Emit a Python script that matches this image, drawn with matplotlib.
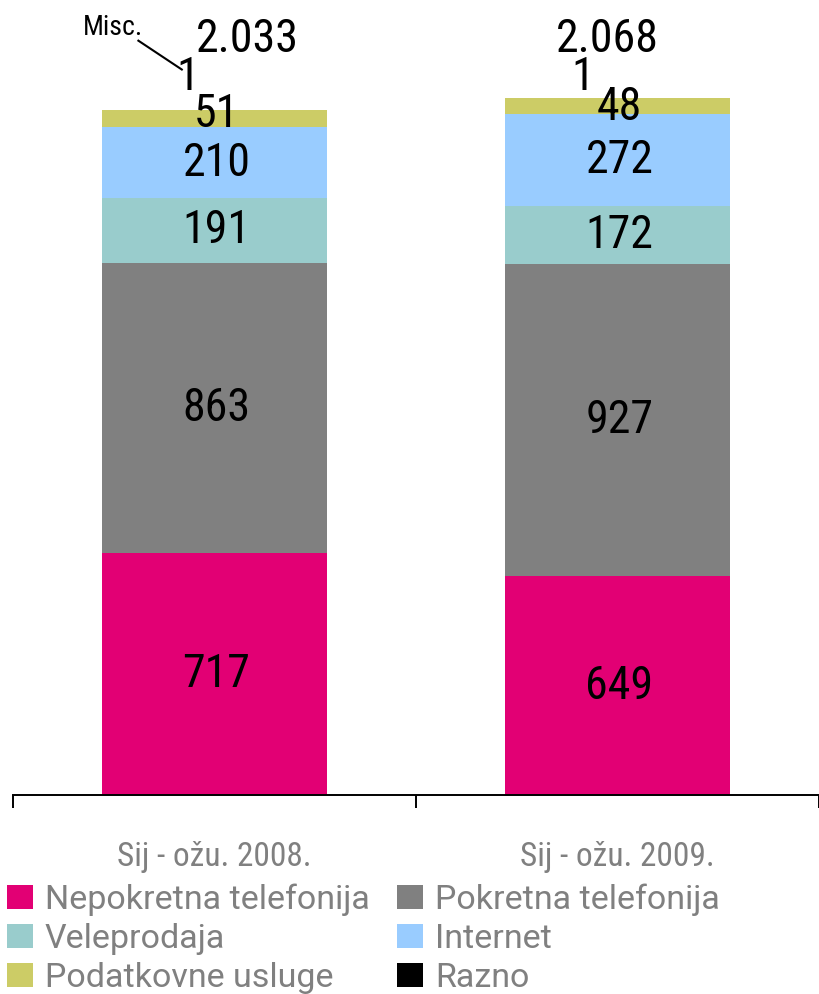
import matplotlib
matplotlib.use("Agg")
import matplotlib.pyplot as plt
import numpy as np

plt.rcParams["font.family"] = ["Roboto Condensed", "Liberation Sans", "DejaVu Sans"]

# data
periods = ["Sij - ožu. 2008.", "Sij - ožu. 2009."]
series = ["Nepokretna telefonija", "Pokretna telefonija", "Veleprodaja",
          "Internet", "Podatkovne usluge", "Razno"]
colors = ["#E20074", "#808080", "#99CCCC", "#99CCFF", "#CCCC66", "#000000"]
nepokretna = [717, 649]
pokretna = [863, 927]
veleprodaja = [191, 172]
internet = [210, 272]
podatkovne = [51, 48]
razno = [1, 1]
totals = ["2.033", "2.068"]

values = [nepokretna, pokretna, veleprodaja, internet, podatkovne, razno]

fig = plt.figure(figsize=(8.19, 9.94), dpi=100)
ax = fig.add_axes([13 / 819, 199 / 994, 1 - 13 / 819, 795 / 994])

LABEL_FS = 33
x = np.arange(len(periods))
bottom = np.zeros(len(periods))
handles = []
small_pos = [0.75, 0.45]   # where the thin "Podatkovne" label sits in its segment
for name, vals, col in zip(series, values, colors):
    h = ax.bar(x, vals, 0.56, bottom=bottom, color=col, label=name)
    handles.append(h)
    if name != "Razno":
        for i, v in enumerate(vals):
            frac = small_pos[i] if name == "Podatkovne usluge" else 0.5
            ax.text(x[i] + 0.005, bottom[i] + v * frac, str(v), ha="center",
                    va="center", fontsize=LABEL_FS, color="black")
    bottom = bottom + np.array(vals)

# Razno labels (above the bars) and totals
razno_dx = [-0.067, -0.087]
total_dx = [0.082, -0.025]
for i in range(len(periods)):
    ax.text(x[i] + razno_dx[i], 2092, str(razno[i]), ha="center",
            va="baseline", fontsize=LABEL_FS)
    ax.text(x[i] + total_dx[i], 2205, totals[i], ha="center",
            va="baseline", fontsize=LABEL_FS)

ax.text(-0.251, 2255, "Misc.", ha="center", va="baseline", fontsize=20)
ax.plot([-0.191, -0.079], [2240, 2151], color="black", lw=1.5,
        solid_capstyle="butt")

ax.set_xlim(-0.5, 1.5)
ax.set_ylim(0, 2359)
for s in ["top", "right", "left"]:
    ax.spines[s].set_visible(False)
ax.spines["bottom"].set_linewidth(1.4)
ax.set_yticks([])
ax.set_xticks([-0.5, 0.5, 1.5])
ax.set_xticklabels([])
ax.tick_params(axis="x", which="major", length=9, width=1.4, direction="out")
ax.set_xticks(x, minor=True)
ax.set_xticklabels(periods, minor=True, fontsize=24, color="#808080")
ax.tick_params(axis="x", which="minor", length=0, pad=33)

leg_kw = dict(loc="upper left", frameon=False, labelcolor="#808080",
              prop={"family": ["Roboto", "DejaVu Sans"], "size": 24.5},
              handlelength=0.76, handleheight=0.7, handletextpad=0.35,
              labelspacing=0.2, borderaxespad=0.0, borderpad=0.0)
col1 = [0, 2, 4]
col2 = [1, 3, 5]
fig.legend([handles[k] for k in col1], [series[k] for k in col1],
           bbox_to_anchor=(7 / 819, 0.111), **leg_kw)
fig.legend([handles[k] for k in col2], [series[k] for k in col2],
           bbox_to_anchor=(397 / 819, 0.111), **leg_kw)

fig.savefig("out.png", dpi=100)
